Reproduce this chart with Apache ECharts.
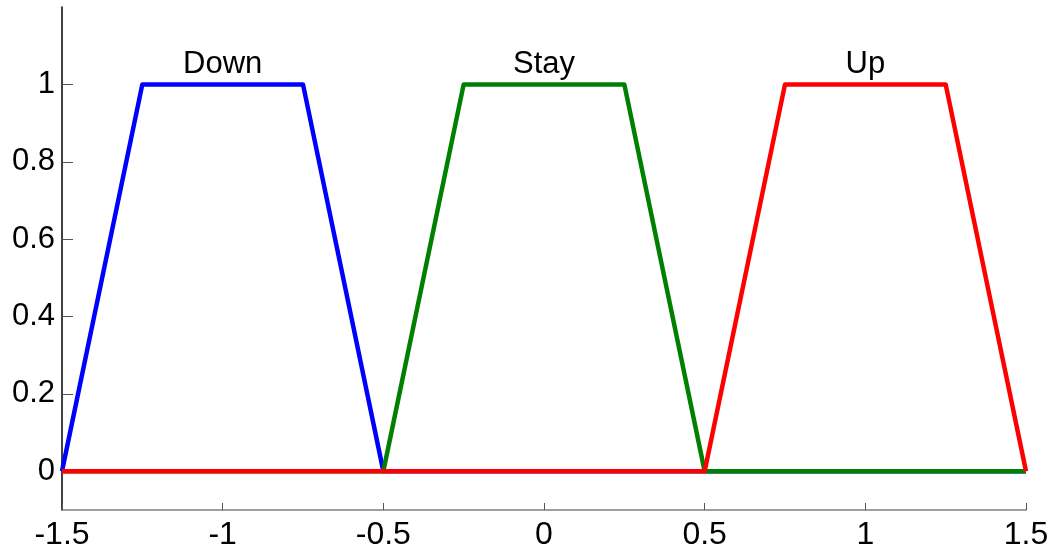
<!DOCTYPE html>
<html>
<head>
<meta charset="utf-8">
<script src="https://cdn.jsdelivr.net/npm/echarts@6/dist/echarts.min.js"></script>
<style>
html,body{margin:0;padding:0;background:#fff;}
#chart{width:1057px;height:551px;}
</style>
</head>
<body>
<div id="chart"></div>
<script>
// Membership functions (x, y)
const downX = [-1.5, -1.25, -0.75, -0.5, 1.5];
const downY = [0, 1, 1, 0, 0];
const stayX = [-1.5, -0.5, -0.25, 0.25, 0.5, 1.5];
const stayY = [0, 0, 1, 1, 0, 0];
const upX = [-1.5, 0.5, 0.75, 1.25, 1.5];
const upY = [0, 0, 1, 1, 0];

// Text labels above each function
const labelNames = ['Down', 'Stay', 'Up'];
const labelX = [-1.0, 0.0, 1.0];
const labelY = [1.052, 1.052, 1.052];

// Tick values
const xTicks = [-1.5, -1, -0.5, 0, 0.5, 1, 1.5];
const yTicks = [0, 0.2, 0.4, 0.6, 0.8, 1];

const zip = (xs, ys) => xs.map((x, i) => [x, ys[i]]);
const FONT = '"Liberation Sans", Arial, Helvetica, sans-serif';

const chart = echarts.init(document.getElementById('chart'), null, {renderer: 'canvas'});
chart.setOption({
  animation: false,
  backgroundColor: '#ffffff',
  grid: {left: 62, right: 31, top: 7, bottom: 40, containLabel: false},
  xAxis: {
    type: 'value',
    min: -1.5, max: 1.5, interval: 0.5,
    splitLine: {show: false},
    axisLine: {show: true, onZero: false, lineStyle: {color: '#808080', width: 1.5}},
    axisTick: {show: true, inside: true, length: 7, customValues: xTicks, lineStyle: {color: '#555555', width: 1}},
    axisLabel: {show: true, customValues: xTicks, color: '#000', fontSize: 32, fontFamily: FONT, margin: 9,
      formatter: v => String(v)}
  },
  yAxis: {
    type: 'value',
    min: -0.1, max: 1.2,
    splitLine: {show: false},
    axisLine: {show: true, onZero: false, lineStyle: {color: '#000000', width: 1.5}},
    axisTick: {show: true, inside: true, length: 11, customValues: yTicks, lineStyle: {color: '#555555', width: 1}},
    axisLabel: {show: true, customValues: yTicks, color: '#000', fontSize: 31, fontFamily: FONT, margin: 7,
      formatter: v => String(v)}
  },
  series: [
    {name: 'Down', type: 'line', data: zip(downX, downY), showSymbol: false, symbol: 'none',
      lineStyle: {color: '#0000ff', width: 4.5, join: 'round'}, z: 2},
    {name: 'Stay', type: 'line', data: zip(stayX, stayY), showSymbol: false, symbol: 'none',
      lineStyle: {color: '#008000', width: 4.5, join: 'round'}, z: 3},
    {name: 'Up', type: 'line', data: zip(upX, upY), showSymbol: false, symbol: 'none',
      lineStyle: {color: '#ff0000', width: 4.5, join: 'round'}, z: 4},
    {name: 'labels', type: 'custom', z: 5,
      data: labelNames.map((n, i) => [labelX[i], labelY[i], i]),
      renderItem: (params, api) => {
        const p = api.coord([api.value(0), api.value(1)]);
        return {
          type: 'text', x: p[0], y: p[1], silent: true,
          style: {text: labelNames[api.value(2)], fill: '#000000', fontSize: 31, fontFamily: FONT,
            align: 'center', verticalAlign: 'middle'}
        };
      }}
  ]
});
</script>
</body>
</html>
